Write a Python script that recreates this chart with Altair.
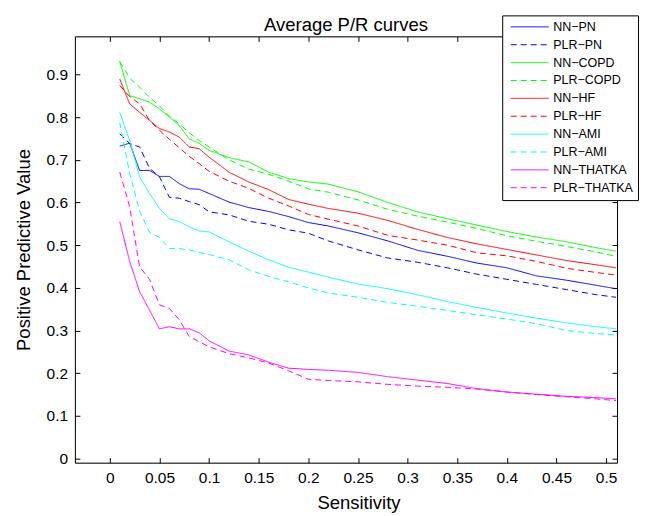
import altair as alt
import pandas as pd

# ---------------- data ----------------
sens = [0.01, 0.02, 0.03, 0.04, 0.05, 0.06, 0.07, 0.08, 0.09, 0.10,
        0.12, 0.14, 0.16, 0.18, 0.20, 0.22, 0.25, 0.28, 0.31, 0.34,
        0.37, 0.40, 0.43, 0.46, 0.49, 0.51]

nn_pn = [0.732, 0.739, 0.675, 0.675, 0.661, 0.661, 0.644, 0.632, 0.631, 0.621,
         0.601, 0.588, 0.579, 0.567, 0.553, 0.545, 0.529, 0.510, 0.488, 0.474,
         0.458, 0.447, 0.428, 0.418, 0.406, 0.398]
plr_pn = [0.761, 0.738, 0.730, 0.680, 0.660, 0.612, 0.610, 0.602, 0.595, 0.578,
          0.571, 0.556, 0.549, 0.536, 0.528, 0.510, 0.489, 0.470, 0.460, 0.447,
          0.432, 0.420, 0.408, 0.396, 0.384, 0.378]
nn_copd = [0.930, 0.850, 0.843, 0.835, 0.819, 0.800, 0.780, 0.749, 0.738, 0.722,
           0.705, 0.695, 0.671, 0.656, 0.648, 0.643, 0.625, 0.600, 0.578, 0.562,
           0.547, 0.532, 0.519, 0.508, 0.494, 0.486]
plr_copd = [0.930, 0.891, 0.870, 0.846, 0.826, 0.802, 0.784, 0.763, 0.745, 0.730,
            0.700, 0.678, 0.666, 0.650, 0.632, 0.624, 0.606, 0.584, 0.568, 0.554,
            0.539, 0.522, 0.509, 0.497, 0.484, 0.474]
nn_hf = [0.889, 0.831, 0.811, 0.792, 0.773, 0.765, 0.753, 0.730, 0.726, 0.706,
         0.671, 0.648, 0.630, 0.607, 0.596, 0.586, 0.575, 0.558, 0.537, 0.518,
         0.503, 0.490, 0.477, 0.464, 0.454, 0.447]
plr_hf = [0.874, 0.848, 0.831, 0.792, 0.769, 0.748, 0.728, 0.708, 0.691, 0.673,
          0.650, 0.633, 0.610, 0.592, 0.572, 0.561, 0.545, 0.523, 0.512, 0.500,
          0.482, 0.475, 0.462, 0.446, 0.436, 0.430]
nn_ami = [0.811, 0.745, 0.660, 0.621, 0.586, 0.562, 0.555, 0.543, 0.533, 0.531,
          0.508, 0.486, 0.466, 0.448, 0.437, 0.425, 0.409, 0.398, 0.384, 0.368,
          0.354, 0.341, 0.329, 0.318, 0.309, 0.304]
plr_ami = [0.787, 0.668, 0.580, 0.530, 0.518, 0.492, 0.492, 0.489, 0.483, 0.478,
           0.466, 0.442, 0.427, 0.414, 0.400, 0.388, 0.378, 0.366, 0.357, 0.347,
           0.337, 0.327, 0.316, 0.300, 0.293, 0.290]
nn_thatka = [0.555, 0.462, 0.391, 0.348, 0.304, 0.309, 0.304, 0.304, 0.295, 0.276,
             0.252, 0.243, 0.226, 0.212, 0.209, 0.207, 0.202, 0.192, 0.184, 0.176,
             0.164, 0.156, 0.151, 0.146, 0.143, 0.140]
plr_thatka = [0.671, 0.590, 0.449, 0.420, 0.360, 0.352, 0.325, 0.286, 0.274, 0.262,
              0.246, 0.236, 0.224, 0.206, 0.186, 0.183, 0.180, 0.174, 0.170, 0.167,
              0.163, 0.156, 0.150, 0.145, 0.140, 0.136]

series_names = ["NN\u2212PN", "PLR\u2212PN", "NN\u2212COPD", "PLR\u2212COPD",
                "NN\u2212HF", "PLR\u2212HF", "NN\u2212AMI", "PLR\u2212AMI",
                "NN\u2212THATKA", "PLR\u2212THATKA"]
series_values = [nn_pn, plr_pn, nn_copd, plr_copd, nn_hf, plr_hf,
                 nn_ami, plr_ami, nn_thatka, plr_thatka]
series_colors = ["#0000ff", "#0000ff", "#00ff00", "#00ff00", "#ff0000",
                 "#ff0000", "#00ffff", "#00ffff", "#ff00ff", "#ff00ff"]
series_dashes = [[1, 0], [6, 4]] * 5

x_ticks = [0, 0.05, 0.1, 0.15, 0.2, 0.25, 0.3, 0.35, 0.4, 0.45, 0.5]
y_ticks = [0, 0.1, 0.2, 0.3, 0.4, 0.5, 0.6, 0.7, 0.8, 0.9]

rows = []
for name, vals in zip(series_names, series_values):
    for s, v in zip(sens, vals):
        rows.append({"Sensitivity": s, "PPV": v, "Series": name})
df = pd.DataFrame(rows)
anchor_df = pd.DataFrame({"Sensitivity": [0.0], "PPV": [0.0]})

# ---------------- chart ----------------
W, H = 543, 427
FONT = "Liberation Sans"
xscale = alt.Scale(domain=[-0.0352, 0.511], nice=False, zero=False)
yscale = alt.Scale(domain=[-0.0094, 0.989], nice=False, zero=False)

legend = alt.Legend(
    title=None, orient="none", legendX=428, legendY=-21,
    padding=5, strokeColor="black", fillColor="white", cornerRadius=0,
    symbolType="stroke", symbolSize=1444, symbolStrokeWidth=1,
    symbolOffset=3, clipHeight=13, rowPadding=4.9,
    labelFont=FONT, labelFontSize=12.5, labelColor="black",
    labelOffset=4, labelLimit=300,
)

lines = alt.Chart(df).mark_line(strokeWidth=1, clip=True).encode(
    x=alt.X("Sensitivity:Q", scale=xscale, axis=alt.Axis(
        values=x_ticks, format="~g", ticks=False, tickSize=0, grid=False,
        domain=True, domainColor="black", domainWidth=1,
        labelFont=FONT, labelFontSize=15.5, labelColor="black",
        labelBaseline="alphabetic", labelPadding=20.3, labelFlush=False,
        title="Sensitivity", titleFont=FONT, titleFontSize=18.5,
        titleFontWeight="normal", titleColor="black",
        titleBaseline="alphabetic", titleX=284, titleY=45.5)),
    y=alt.Y("PPV:Q", scale=yscale, axis=alt.Axis(
        values=y_ticks, format="~g", ticks=False, tickSize=0, grid=False,
        domain=True, domainColor="black", domainWidth=1,
        labelFont=FONT, labelFontSize=15.5, labelColor="black",
        labelPadding=7.3, labelFlush=False,
        title="Positive Predictive Value", titleFont=FONT, titleFontSize=18.5,
        titleFontWeight="normal", titleColor="black",
        titleBaseline="alphabetic", titleX=-45)),
    color=alt.Color("Series:N", scale=alt.Scale(domain=series_names, range=series_colors),
                    legend=legend),
    strokeDash=alt.StrokeDash("Series:N", scale=alt.Scale(domain=series_names, range=series_dashes),
                              legend=legend),
)

def tick_axis(vals, orient, offset, domain):
    return alt.Axis(values=vals, orient=orient, offset=offset, labels=False,
                    ticks=True, tickSize=5, tickColor="black", tickWidth=1,
                    grid=False, domain=domain, domainColor="black", domainWidth=1,
                    title=None)

# inward ticks on bottom and left edges
ticks_a = alt.Chart(anchor_df).mark_point(opacity=0).encode(
    x=alt.X("Sensitivity:Q", scale=xscale, axis=tick_axis(x_ticks, "top", -H, False)),
    y=alt.Y("PPV:Q", scale=yscale, axis=tick_axis(y_ticks, "right", -W, False)),
)
# inward ticks (and box lines) on top and right edges
ticks_b = alt.Chart(anchor_df).mark_point(opacity=0).encode(
    x=alt.X("Sensitivity:Q", scale=xscale, axis=tick_axis(x_ticks, "bottom", -H, True)),
    y=alt.Y("PPV:Q", scale=yscale, axis=tick_axis(y_ticks, "left", -W, True)),
)

chart = alt.layer(ticks_a, ticks_b, lines).resolve_axis(
    x="independent", y="independent"
).properties(
    width=W, height=H,
    title=alt.Title("Average P/R curves", font=FONT, fontSize=18.5, fontWeight="normal",
                    color="black", anchor="middle", frame="group",
                    baseline="alphabetic", offset=-35),
    padding={"left": 67, "top": 28, "right": 24, "bottom": 51},
    autosize=alt.AutoSizeParams(type="none"),
).configure_view(stroke=None).configure(background="white")

chart.save("out.html", embed_options={"renderer": "svg", "actions": False})
